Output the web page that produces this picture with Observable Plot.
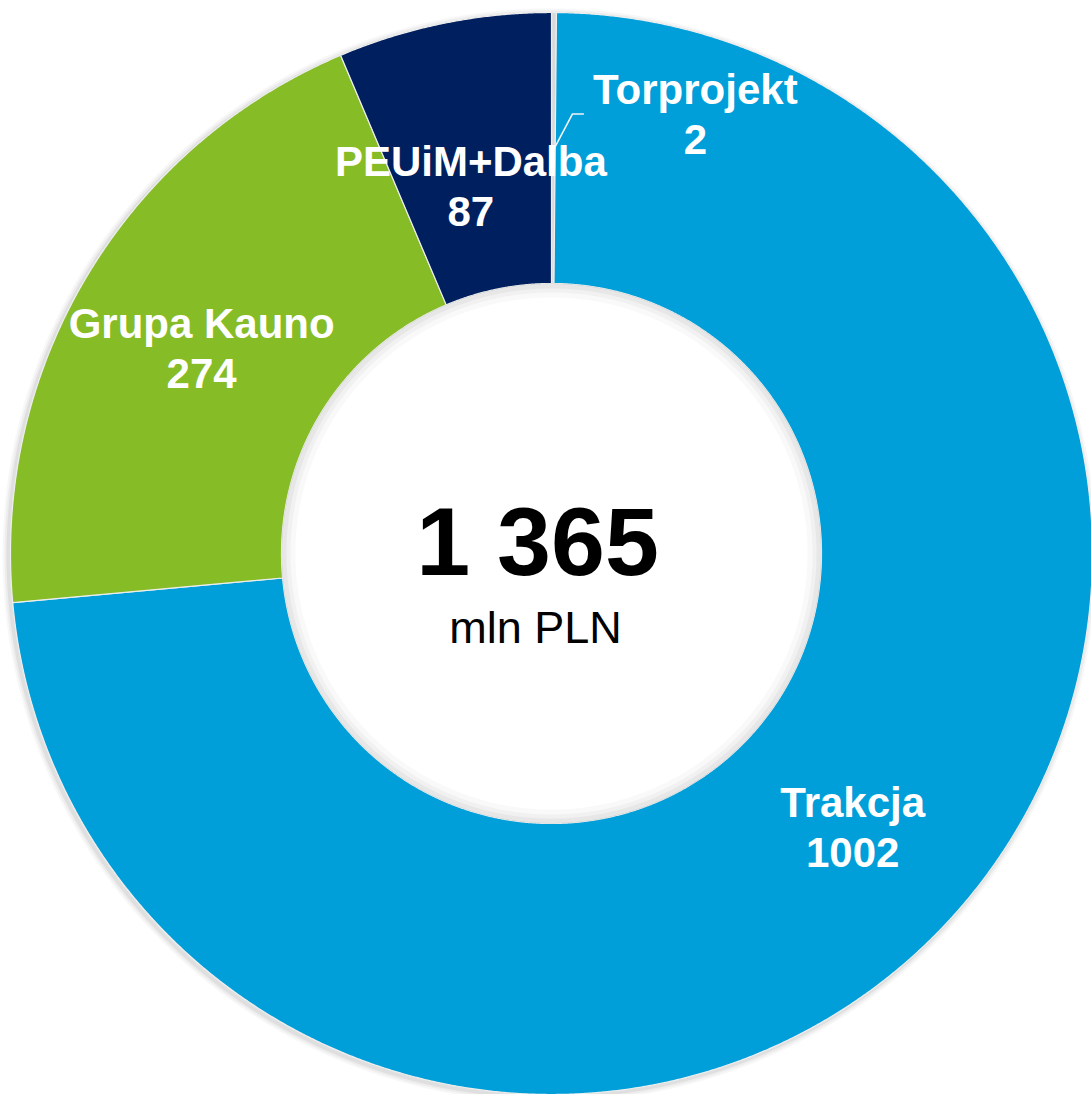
<!DOCTYPE html>
<html>
<head>
<meta charset="utf-8">
<script src="https://cdn.jsdelivr.net/npm/d3@7"></script>
<script src="https://cdn.jsdelivr.net/npm/@observablehq/plot@0.6"></script>
<style>
  html, body { margin: 0; padding: 0; background: #ffffff; }
  #chart svg { display: block; }
</style>
</head>
<body>
<div id="chart"></div>
<script>
// ---- data ----
const names = ["Torprojekt", "Trakcja", "Grupa Kauno", "PEUiM+Dalba"];
const values = [2, 1002, 274, 87];
const colors = ["#D9D9D9", "#009FDA", "#86BC25", "#001F5F"];
const totalLabel = "1 365";
const unitLabel = "mln PLN";

// ---- geometry (pixel units relative to ring centre) ----
const W = 1091, H = 1094;
const cx = 551, cy = 553;
const R = 541, r0 = 270;
const sum = d3.sum(values);
const deg = Math.PI / 180;

let acc = 0;
const slices = names.map((name, i) => {
  const a0 = acc / sum * 2 * Math.PI;
  acc += values[i];
  const a1 = acc / sum * 2 * Math.PI;
  return {name, value: values[i], a0, a1, mid: (a0 + a1) / 2};
});

const ringPts = [];
for (const s of slices) {
  const n = Math.max(2, Math.ceil((s.a1 - s.a0) / (0.2 * deg)));
  const pts = [];
  for (let k = 0; k <= n; k++) {
    const a = s.a0 + (s.a1 - s.a0) * k / n;
    pts.push({name: s.name, x: R * Math.sin(a), y: -R * Math.cos(a)});
  }
  for (let k = n; k >= 0; k--) {
    const a = s.a0 + (s.a1 - s.a0) * k / n;
    pts.push({name: s.name, x: r0 * Math.sin(a), y: -r0 * Math.cos(a)});
  }
  pts.push({...pts[0]});
  ringPts.push(...pts);
}

// faint halo circles imitating the soft shadow of the original
const circle = (rad, ox, oy) => d3.range(0, 361, 1).map(t => ({
  x: ox + rad * Math.sin(t * deg), y: oy - rad * Math.cos(t * deg)
}));

const rm = (R + r0) / 2;
const labels = slices.map(s => ({
  name: s.name,
  text: s.name + "\n" + s.value,
  x: rm * Math.sin(s.mid),
  y: -rm * Math.cos(s.mid)
}));
// manual label nudges (as placed in the original chart)
const nudge = {"Torprojekt": [142, -35], "PEUiM+Dalba": [0, 29], "Trakcja": [3, -2], "Grupa Kauno": [-2, 2]};
const placed = labels.map(l => ({...l, x: l.x + nudge[l.name][0], y: l.y + nudge[l.name][1]}));

const tor = labels[0];
const torLab = placed[0];
const leader = [
  {x: tor.x, y: tor.y + 2},
  {x: torLab.x - 123, y: torLab.y + 1},
  {x: torLab.x - 112, y: torLab.y + 1}
];

const sliceMarks = slices.map((s, i) =>
  Plot.line(ringPts.filter(p => p.name === s.name), {
    x: "x", y: "y", fill: colors[i],
    stroke: "#eeeeee", strokeWidth: 1.2, curve: "linear"
  })
);

const halo = [];
for (const [w, op] of [[12, 0.03], [8, 0.04], [4, 0.06]]) {
  halo.push(Plot.line(circle(R, -2, 2), {x: "x", y: "y", stroke: "#000", strokeOpacity: op, strokeWidth: w}));
}

const innerHalo = [];
for (const [w, op] of [[14, 0.025], [9, 0.03], [5, 0.04]]) {
  innerHalo.push(Plot.line(circle(r0 - w / 2, 0, 0), {x: "x", y: "y", stroke: "#000", strokeOpacity: op, strokeWidth: w}));
}

const chart = Plot.plot({
  width: W,
  height: H,
  margin: 0,
  x: {domain: [-cx, W - cx], axis: null},
  y: {domain: [-cy, H - cy], reverse: true, axis: null},
  style: {background: "#ffffff", fontFamily: "Arial, 'Liberation Sans', sans-serif"},
  marks: [
    ...halo,
    ...sliceMarks,
    ...innerHalo,
    Plot.line(leader, {x: "x", y: "y", stroke: "#f4f4f4", strokeWidth: 1.6, curve: "linear"}),
    Plot.text(placed, {
      x: "x", y: "y", text: "text",
      fill: "#ffffff", fontSize: 42, fontWeight: "bold",
      lineHeight: 1.19, textAnchor: "middle", lineAnchor: "middle"
    }),
    Plot.text([totalLabel], {
      x: () => 0, y: () => 0, text: d => d,
      fill: "#000000", fontSize: 97, fontWeight: "bold",
      textAnchor: "middle", lineAnchor: "middle", dx: -14, dy: -10
    }),
    Plot.text([unitLabel], {
      x: () => 0, y: () => 0, text: d => d,
      fill: "#000000", fontSize: 45,
      textAnchor: "middle", lineAnchor: "middle", dx: -16, dy: 75
    })
  ]
});

document.getElementById("chart").appendChild(chart);
</script>
</body>
</html>
